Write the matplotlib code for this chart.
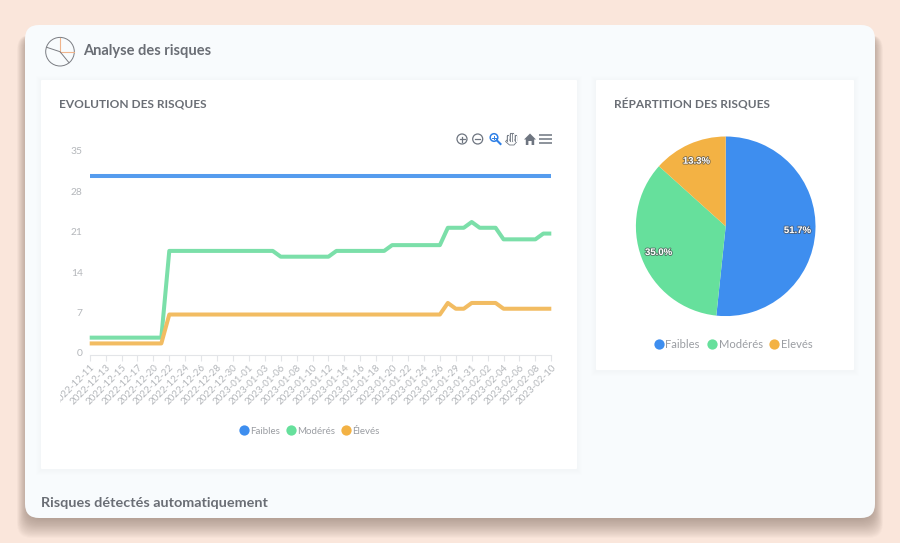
import matplotlib
matplotlib.use("Agg")
import matplotlib.pyplot as plt
from matplotlib.lines import Line2D
from matplotlib.patches import Circle, FancyBboxPatch, Polygon
from matplotlib.transforms import Bbox, ScaledTranslation
import matplotlib.patheffects as pe

# Donnees
dates = [
    "2022-12-11", "2022-12-12", "2022-12-13", "2022-12-14", "2022-12-15", "2022-12-16",
    "2022-12-17", "2022-12-19", "2022-12-20", "2022-12-21", "2022-12-22", "2022-12-23",
    "2022-12-24", "2022-12-25", "2022-12-26", "2022-12-27", "2022-12-28", "2022-12-29",
    "2022-12-30", "2022-12-31", "2023-01-01", "2023-01-02", "2023-01-03", "2023-01-05",
    "2023-01-06", "2023-01-07", "2023-01-08", "2023-01-09", "2023-01-10", "2023-01-11",
    "2023-01-12", "2023-01-13", "2023-01-14", "2023-01-15", "2023-01-16", "2023-01-17",
    "2023-01-18", "2023-01-19", "2023-01-20", "2023-01-21", "2023-01-22", "2023-01-23",
    "2023-01-24", "2023-01-25", "2023-01-26", "2023-01-28", "2023-01-29", "2023-01-30",
    "2023-01-31", "2023-02-01", "2023-02-02", "2023-02-03", "2023-02-04", "2023-02-05",
    "2023-02-06", "2023-02-07", "2023-02-08", "2023-02-09", "2023-02-10",
]
faibles = [31] * 59
moderes = [3] * 10 + [18] * 14 + [17] * 7 + [18] * 7 + [19] * 7 + [22] * 3 + [23] + [22] * 3 + [20] * 5 + [21] * 2
eleves = [2] * 10 + [7] * 35 + [9, 8, 8, 9, 9, 9, 9] + [8] * 7
yticks = [0, 7, 14, 21, 28, 35]
labels_ligne = ["Faibles", "Modérés", "Élevés"]
labels_pie = ["Faibles", "Modérés", "Elevés"]
parts = [31, 21, 8]

couleurs_ligne = ["#559CEE", "#7BDFA9", "#F2BC62"]
couleurs_pie = ["#3E8EEF", "#66E09C", "#F3B244"]
gris_titre = "#6A6E75"
gris_label = "#B4B7BB"
gris_legende = "#9A9DA2"

W, H = 900, 543
plt.rcParams["font.family"] = ["Lato", "DejaVu Sans"]
fig = plt.figure(figsize=(W / 100, H / 100), dpi=100, facecolor="#FAE6DB")


def boite(x, y):
    # conversion pixels (origine en haut a gauche) vers fraction de figure
    return [x[0] / W, 1 - y[1] / H, (x[1] - x[0]) / W, (y[1] - y[0]) / H]


fond = fig.add_axes([0, 0, 1, 1], zorder=0)
fond.set_xlim(0, W)
fond.set_ylim(H, 0)
fond.axis("off")


def arrondi(x0, y0, x1, y1, rayon, **style):
    fond.add_patch(FancyBboxPatch((x0 + rayon, y0 + rayon), x1 - x0 - 2 * rayon, y1 - y0 - 2 * rayon,
                                  boxstyle="round,pad=%g" % rayon, ec="none", **style))


# ombre de la carte principale : couches qui descendent sous le bord
for i in range(18, 0, -1):
    arrondi(28 - i * 0.6, 35, 872 + i * 0.6, 518 + i * 1.1, 14, fc="#6E5A50", alpha=0.03)
arrondi(25, 25, 875, 518, 14, fc="#F8FBFD")

# panneaux blancs
for x0, y0, x1, y1 in ((41, 80, 577, 469), (596, 80, 854, 370)):
    for i in range(5, 0, -1):
        arrondi(x0 - i, y0 - i + 1, x1 + i, y1 + i + 1, 1, fc="#C9D2DE", alpha=0.018)
    arrondi(x0, y0, x1, y1, 1, fc="#FFFFFF")

# Pictogramme du titre
fond.add_patch(Circle((60, 51.7), 14.3, fc="none", ec="#7A7C82", lw=0.7))
fond.plot([60, 60], [37.5, 51.7], color="#F0B48C", lw=0.8)
fond.plot([60, 74], [51.7, 51.7], color="#F0B48C", lw=0.8)
fond.plot([46.7, 60, 69], [47.3, 51.7, 62.7], color="#7A7C82", lw=0.7)

# Titres
fond.text(83, 51, "Analyse des risques", fontsize=10.5, fontweight="bold", color=gris_titre, va="center")
fond.text(59, 104, "EVOLUTION DES RISQUES", fontsize=8.6, fontweight="bold", color=gris_titre, va="center")
fond.text(614, 104, "RÉPARTITION DES RISQUES", fontsize=8.6, fontweight="bold", color=gris_titre, va="center")
fond.text(41, 503, "Risques détectés automatiquement", fontsize=10.4, fontweight="bold", color=gris_titre, va="center")

# Barre d'outils du graphique
outil = "#6E7580"
for cx in (462, 477.7):
    fond.add_patch(Circle((cx, 139), 5, fc="none", ec=outil, lw=0.9))
    fond.plot([cx - 2.5, cx + 2.5], [139, 139], color=outil, lw=0.9)
fond.plot([462, 462], [136.5, 141.5], color=outil, lw=0.9)
fond.add_patch(Circle((494, 137.5), 3.8, fc="none", ec="#2F80E6", lw=1.1))
fond.plot([496.8, 500.5], [140.3, 144], color="#2F80E6", lw=1.5)
fond.plot([492.2, 495.8], [137.5, 137.5], color="#2F80E6", lw=0.7)
fond.plot([494, 494], [135.7, 139.3], color="#2F80E6", lw=0.7)
# main : doigts blancs cernes de gris
for x_doigt, haut in zip((508, 510.6, 513.2, 515.6), (136, 134, 134, 135.5)):
    fond.plot([x_doigt, x_doigt], [haut, 141], color=outil, lw=1.7, solid_capstyle="round")
for x_doigt, haut in zip((508, 510.6, 513.2, 515.6), (136, 134, 134, 135.5)):
    fond.plot([x_doigt, x_doigt], [haut, 141], color="white", lw=0.9, solid_capstyle="round")
fond.add_patch(Polygon([(507, 140), (516.6, 140), (516.6, 142), (514, 145), (509.5, 145), (505.5, 141.5)],
                       fc="white", ec=outil, lw=0.6))
fond.add_patch(Polygon([(524, 139.5), (530, 133.5), (536, 139.5), (534.2, 139.5), (534.2, 145),
                        (531.6, 145), (531.6, 141), (528.4, 141), (528.4, 145), (525.8, 145), (525.8, 139.5)],
                       fc=outil, ec="none"))
for y_barre in (135, 139, 143):
    fond.plot([539, 551.5], [y_barre, y_barre], color=outil, lw=1.1, solid_capstyle="butt")

# Courbes
ax = fig.add_axes(boite((89.7, 551.3), (152.6, 355)), zorder=2)
ax.patch.set_alpha(0)
x = list(range(len(dates)))
for serie, couleur, nom in zip((faibles, moderes, eleves), couleurs_ligne, labels_ligne):
    ax.plot(x, serie, color=couleur, lw=2.9, label=nom, solid_capstyle="butt", clip_on=False)
ax.set_xlim(0, len(dates) - 1)
ax.set_ylim(0, 35)
ax.set_yticks(yticks)
ax.set_xticks(x[::2])
ax.set_xticklabels(dates[::2], rotation=45, ha="right", va="top", rotation_mode="anchor",
                   fontsize=7.0, color=gris_label)
ax.tick_params(axis="y", length=0, labelsize=7.4, labelcolor=gris_label, pad=5)
ax.tick_params(axis="x", length=4.2, width=0.8, color="#E3E5E8", pad=1.5)
for s in ("top", "right", "left"):
    ax.spines[s].set_visible(False)
ax.spines["bottom"].set_color("#E3E5E8")
ax.spines["bottom"].set_linewidth(0.8)

decale = ScaledTranslation(0, 2 / 100, fig.dpi_scale_trans)
for t in ax.get_yticklabels():
    t.set_transform(t.get_transform() + decale)
# la premiere date est coupee par le bord du graphique
zone = Bbox.from_extents(60, 0, W, H)
for t in ax.get_xticklabels():
    t.set_clip_box(zone)
    t.set_clip_on(True)


def legende(axe, couleurs, noms, position, taille, espace):
    poignees = [Line2D([], [], ls="none", marker="o", ms=7.4, mfc=c, mec="none", label=n)
                for c, n in zip(couleurs, noms)]
    return axe.legend(handles=poignees, loc="center", bbox_to_anchor=position, bbox_transform=fond.transData,
                      ncol=3, frameon=False, fontsize=taille, labelcolor=gris_legende, handletextpad=0.1,
                      columnspacing=espace, handlelength=1.0, borderpad=0)


legende(ax, couleurs_pie, labels_ligne, (309.5, 431), 7.0, 0.65)

# Camembert
ax_pie = fig.add_axes(boite((635.9, 815.5), (136.5, 316.1)), zorder=2)
morceaux, _, pourcents = ax_pie.pie(parts, colors=couleurs_pie, startangle=90, counterclock=False, radius=1,
                                    autopct="%1.1f%%", pctdistance=0.8)
for t in pourcents:
    t.set_family(["Liberation Sans"])
    t.set_fontsize(6.9)
    t.set_fontweight("bold")
    t.set_color("white")
    t.set_path_effects([pe.withStroke(linewidth=1.2, foreground="#44474B", alpha=0.7)])
ax_pie.set_xlim(-1, 1)
ax_pie.set_ylim(-1, 1)
legende(ax_pie, couleurs_pie, labels_pie, (733, 344), 8.1, 0.55)

fig.savefig("out.png", dpi=100, facecolor=fig.get_facecolor())
